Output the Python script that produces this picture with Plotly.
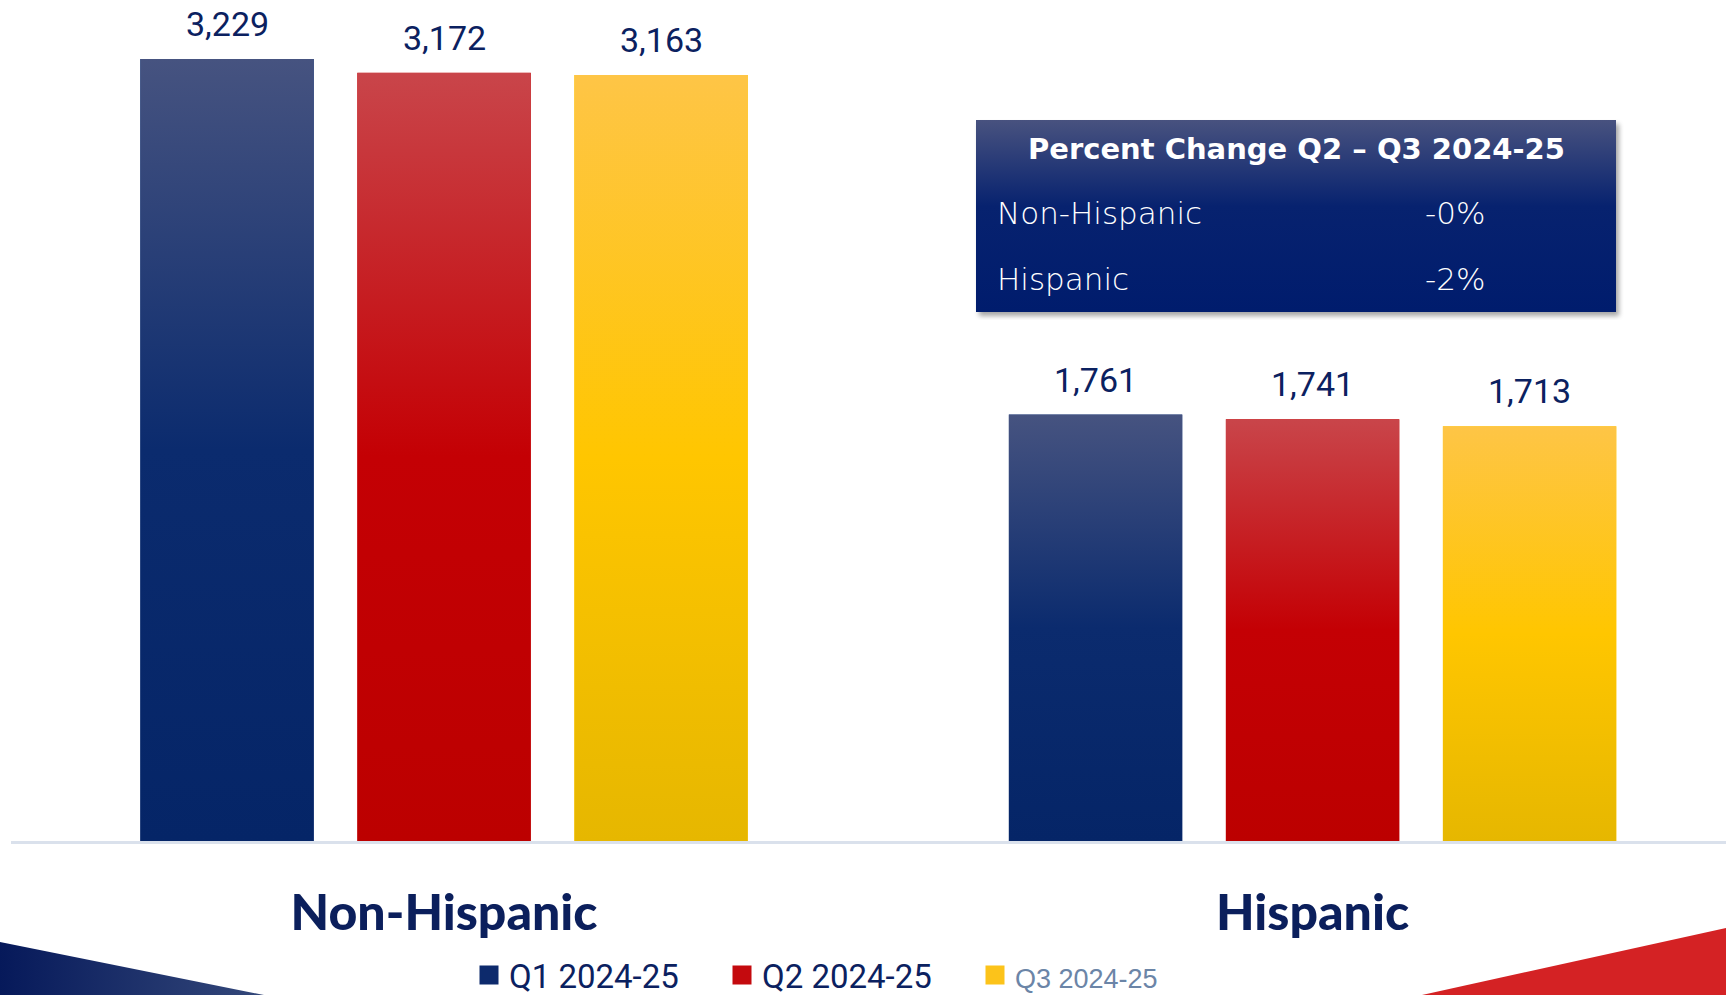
import base64
import plotly.graph_objects as go

# ---------------- data ----------------
categories = ["Non-Hispanic", "Hispanic"]
series_names = ["Q1 2024-25", "Q2 2024-25", "Q3 2024-25"]
q1_values = [3229, 1761]
q2_values = [3172, 1741]
q3_values = [3163, 1713]
box_title = "Percent Change Q2 – Q3 2024-25"

# ---------------- styles ----------------
W, H = 1726, 995
ML, MR, MT, MB = 11, 0, 0, 154
PW, PH = W - ML - MR, H - MT - MB
NAVY = "#0b2160"
BARGAP = 0.2504
BARGROUPGAP = 0.2005
YMAX = 3472.6
XRANGE = [-0.4986, 1.476]

solid = ["#0b2b6e", "#c20002", "#ffc600"]
legend_colors = ["#0d2a6c", "#c40a0e", "#fcc31a"]
grad_stops = [
    [("0", "#465380"), ("0.5", "#0b2b6e"), ("1", "#052567")],
    [("0", "#c9454a"), ("0.5", "#c40004"), ("1", "#bc0000")],
    [("0", "#fec546"), ("0.5", "#ffc600"), ("1", "#e6b700")],
]


def svg_uri(svg):
    return "data:image/svg+xml;base64," + base64.b64encode(svg.encode()).decode()


def grad_svg(stops):
    st = "".join(f"<stop offset='{o}' stop-color='{c}'/>" for o, c in stops)
    return svg_uri(
        "<svg xmlns='http://www.w3.org/2000/svg' width='100' height='100' viewBox='0 0 100 100' "
        "preserveAspectRatio='none'><defs><linearGradient id='g' x1='0' y1='0' x2='0' y2='1'>"
        + st + "</linearGradient></defs><rect width='100' height='100' fill='url(#g)'/></svg>")


def px2x(px):
    return (px - ML) / PW


def px2y(py):
    return 1 - (py - MT) / PH


series = [q1_values, q2_values, q3_values]
xpos = list(range(len(categories)))

fig = go.Figure()
legend_names = [
    series_names[0],
    series_names[1],
    f"<span style='color:#6b85a7;font-family:Liberation Sans;font-size:27px'>{series_names[2]}</span>",
]
for j, vals in enumerate(series):
    fig.add_trace(go.Bar(
        x=xpos, y=vals, name=series_names[j], showlegend=False,
        marker=dict(color=solid[j], line=dict(width=0)),
        hoverinfo="y",
    ))
# legend entries (square symbols)
for j in range(len(series)):
    fig.add_trace(go.Scatter(
        x=[None], y=[None], mode="markers", name=legend_names[j],
        marker=dict(symbol="square", size=20, color=legend_colors[j],
                    line=dict(width=3, color=legend_colors[j])),
    ))

# gradient overlay on each bar, placed through the data axes
slot = (1 - BARGAP) / len(series)
bw = slot * (1 - BARGROUPGAP)
images = []
annotations = []
for j, vals in enumerate(series):
    src = grad_svg(grad_stops[j])
    for i, v in enumerate(vals):
        xc = xpos[i] + (j - (len(series) - 1) / 2) * slot
        images.append(dict(source=src, xref="x", yref="y", x=xc - bw / 2, y=v,
                           sizex=bw, sizey=v, xanchor="left", yanchor="top",
                           sizing="stretch", layer="above"))
        annotations.append(dict(x=xc, y=v, xref="x", yref="y", text=f"{v:,}",
                                showarrow=False, yanchor="bottom", yshift=13,
                                font=dict(family="Roboto", size=34, color=NAVY)))

# percent change box
bx0, by0, bx1, by1 = 976, 120, 1616, 312
pad = 8
box_svg = svg_uri(
    f"<svg xmlns='http://www.w3.org/2000/svg' width='{bx1-bx0+2*pad}' height='{by1-by0+2*pad}' "
    f"viewBox='0 0 {bx1-bx0+2*pad} {by1-by0+2*pad}' preserveAspectRatio='none'><defs>"
    "<linearGradient id='b' x1='0' y1='0' x2='0' y2='1'>"
    "<stop offset='0' stop-color='#48527f'/><stop offset='0.45' stop-color='#07226f'/>"
    "<stop offset='1' stop-color='#001c6d'/></linearGradient>"
    "<filter id='s' x='-10%' y='-10%' width='120%' height='120%'><feGaussianBlur stdDeviation='2.5'/></filter></defs>"
    f"<rect x='{pad+3}' y='{pad+4}' width='{bx1-bx0}' height='{by1-by0}' fill='#000' opacity='0.35' filter='url(#s)'/>"
    f"<rect x='{pad}' y='{pad}' width='{bx1-bx0}' height='{by1-by0}' fill='url(#b)'/></svg>")
images.append(dict(source=box_svg, xref="paper", yref="paper",
                   x=px2x(bx0 - pad), y=px2y(by0 - pad),
                   sizex=(bx1 - bx0 + 2 * pad) / PW, sizey=(by1 - by0 + 2 * pad) / PH,
                   xanchor="left", yanchor="top", sizing="stretch", layer="above"))

# decorative corner triangles
deco_svg = svg_uri(
    f"<svg xmlns='http://www.w3.org/2000/svg' width='{W}' height='{H}' viewBox='0 0 {W} {H}' "
    "preserveAspectRatio='none'><defs><linearGradient id='n' x1='0' y1='0' x2='1' y2='0'>"
    "<stop offset='0' stop-color='#06195a'/><stop offset='1' stop-color='#34487a'/></linearGradient></defs>"
    "<polygon points='0,942 264,995 0,995' fill='url(#n)'/>"
    "<polygon points='1422,995 1726,928 1726,995' fill='#d42224'/></svg>")
images.append(dict(source=deco_svg, xref="paper", yref="paper",
                   x=px2x(0), y=px2y(0), sizex=W / PW, sizey=H / PH,
                   xanchor="left", yanchor="top", sizing="stretch", layer="below"))

# box text
pct = [(b - a) / a * 100 for a, b in zip(q2_values, q3_values)]
annotations.append(dict(x=px2x(1296), y=px2y(148.5), xref="paper", yref="paper",
                        text=f"<b>{box_title}</b>", showarrow=False,
                        xanchor="center", yanchor="middle",
                        font=dict(family="DejaVu Sans", size=29, color="white")))
row_y = [213, 278.5]
for k, cat in enumerate(categories):
    annotations.append(dict(x=px2x(995), y=px2y(row_y[k]), xref="paper", yref="paper",
                            text=cat, showarrow=False, xanchor="left", yanchor="middle",
                            font=dict(family="DejaVu Sans", size=31, color="white", weight=200)))
    annotations.append(dict(x=px2x(1423), y=px2y(row_y[k]), xref="paper", yref="paper",
                            text=f"{pct[k]:.0f}%", showarrow=False, xanchor="left", yanchor="middle",
                            font=dict(family="DejaVu Sans", size=31, color="white", weight=200)))

fig.update_layout(
    width=W, height=H, autosize=False,
    margin=dict(l=ML, r=MR, t=MT, b=MB, pad=0, autoexpand=False),
    paper_bgcolor="white", plot_bgcolor="rgba(0,0,0,0)",
    barmode="group", bargap=BARGAP, bargroupgap=BARGROUPGAP,
    showlegend=True,
    legend=dict(orientation="h", x=px2x(469), xanchor="left", y=px2y(947), yanchor="top",
                font=dict(family="Roboto", size=33, color=NAVY),
                entrywidth=208, entrywidthmode="pixels", itemsizing="trace",
                bgcolor="rgba(0,0,0,0)", traceorder="normal"),
    xaxis=dict(range=XRANGE, tickmode="array", tickvals=xpos, ticktext=categories,
               showgrid=False, zeroline=False, showline=True, linecolor="#dae1ec", linewidth=3,
               ticks="", ticklabelstandoff=26,
               tickfont=dict(family="Lato", size=50, color="#0b1f5c", weight=900),
               fixedrange=True),
    yaxis=dict(range=[0, YMAX], visible=False, showgrid=False, zeroline=False, fixedrange=True),
    images=images,
    annotations=annotations,
)

fig.write_html("out.html")
